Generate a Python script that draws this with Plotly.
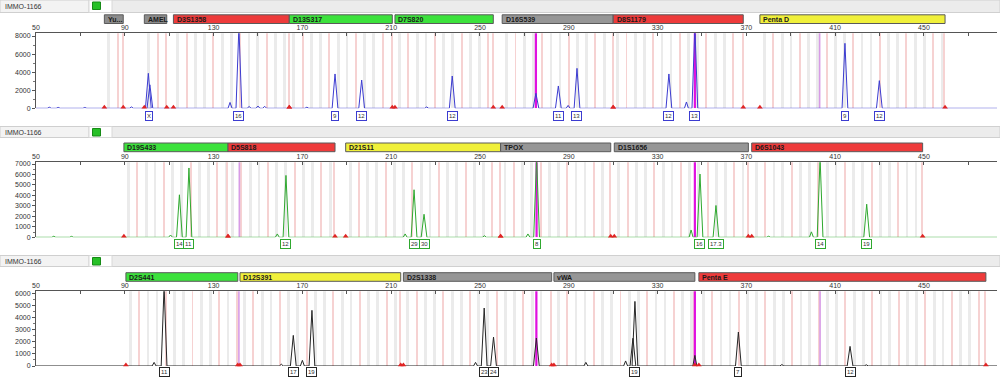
import plotly.graph_objects as go

W, H = 1000, 378
X_MIN, X_MAX = 50, 482.9
X_TICKS = list(range(50, 471, 20))
X_TICK_TEXT = [str(v) if (v - 50) % 40 == 0 else "" for v in X_TICKS]
SAMPLE = "IMMO-1166"

# ---------------- panel 1 (blue dye) ----------------
p1_loci = ["Yu...", "AMEL", "D3S1358", "D13S317", "D7S820", "D16S539", "D8S1179", "Penta D"]
p1_start = [80.8, 98.8, 111.9, 164.1, 211.7, 260.0, 310.0, 376.1]
p1_end = [89.3, 108.9, 164.1, 210.5, 256.0, 310.0, 368.6, 459.5]
p1_colors = ["#8c8c8c", "#8c8c8c", "#ee3b3b", "#3ce23c", "#3ce23c", "#969696", "#ee3b3b", "#f0f03a"]
p1_peak_pos = [100.6, 101.3, 141.4, 184.7, 196.7, 237.5, 285.3, 293.7, 335.1, 346.8, 414.4, 429.9]
p1_peak_h = [3870, 2600, 9000, 3800, 3130, 3575, 2470, 4420, 3800, 9000, 7190, 3060]
p1_minor_pos = [56, 60, 72, 93, 137.4, 146, 150, 153, 172, 226, 275.2, 289.7, 343.0]
p1_minor_h = [120, 100, 90, 150, 650, 200, 250, 220, 120, 150, 1660, 320, 700]
p1_allele_pos = [100.9, 141.4, 184.7, 196.7, 237.5, 285.3, 293.7, 335.1, 346.8, 414.4, 429.9]
p1_allele_txt = ["X", "16", "9", "12", "12", "11", "13", "12", "13", "9", "12"]
p1_magenta = [275.2, 346.8, 403.0]
p1_magenta_style = ["bright", "bright", "light"]
p1_yticks = [0, 2000, 4000, 6000, 8000]

# ---------------- panel 2 (green dye) ----------------
p2_loci = ["D19S433", "D5S818", "D21S11", "TPOX", "D1S1656", "D6S1043"]
p2_start = [89.6, 136.5, 189.5, 259.3, 310.5, 372.4]
p2_end = [136.5, 184.7, 259.3, 308.9, 370.9, 449.4]
p2_colors = ["#3ce23c", "#ee3b3b", "#f0f03a", "#969696", "#969696", "#ee3b3b"]
p2_peak_pos = [114.6, 118.9, 162.6, 220.3, 224.8, 275.5, 349.1, 356.3, 403.2, 424.2]
p2_peak_h = [4060, 6620, 5910, 4540, 2200, 7600, 6040, 3040, 7600, 3160]
p2_minor_pos = [58, 66, 110.6, 158.7, 216.3, 252.0, 271.6, 345.1, 399.3, 380.0]
p2_minor_h = [100, 90, 220, 320, 320, 150, 320, 700, 520, 100]
p2_allele_pos = [114.6, 118.9, 162.6, 220.3, 224.8, 275.5, 349.1, 356.3, 403.2, 424.2]
p2_allele_txt = ["14", "11", "12", "29", "30", "8", "16", "17.3", "14", "19"]
p2_magenta = [141.6, 275.5, 346.8]
p2_magenta_style = ["light", "bright", "bright"]
p2_yticks = [0, 1000, 2000, 3000, 4000, 5000, 6000, 7000]

# ---------------- panel 3 (black dye) ----------------
p3_loci = ["D2S441", "D12S391", "D2S1338", "vWA", "Penta E"]
p3_start = [90.5, 141.9, 215.5, 283.3, 348.6]
p3_end = [140.9, 214.3, 282.3, 346.8, 477.9]
p3_colors = ["#3ce23c", "#f0f03a", "#969696", "#969696", "#ee3b3b"]
p3_peak_pos = [107.7, 165.9, 174.3, 251.9, 256.1, 319.8, 366.4, 416.7]
p3_peak_h = [6600, 2540, 4620, 4810, 2400, 5360, 2820, 1630]
p3_minor_pos = [103.2, 160.5, 170.0, 248.0, 275.4, 297.7, 315.6, 318.9, 346.8, 386.0, 424.0]
p3_minor_h = [300, 150, 470, 300, 2320, 300, 420, 2300, 880, 120, 100]
p3_allele_pos = [107.7, 165.9, 174.3, 251.9, 256.1, 319.8, 366.4, 416.7]
p3_allele_txt = ["11", "17", "19", "23", "24", "19", "7", "12"]
p3_magenta = [141.4, 275.4, 346.8, 403.2]
p3_magenta_style = ["light", "bright", "bright", "light"]
p3_yticks = [0, 1000, 2000, 3000, 4000, 5000, 6000]

# ---------------- layout geometry (pixels) ----------------
panels = [
    dict(loci=p1_loci, start=p1_start, end=p1_end, colors=p1_colors,
         peak_pos=p1_peak_pos, peak_h=p1_peak_h, minor_pos=p1_minor_pos, minor_h=p1_minor_h,
         allele_pos=p1_allele_pos, allele_txt=p1_allele_txt, magenta=p1_magenta,
         magenta_style=p1_magenta_style, yticks=p1_yticks, dye="#3c3cd0",
         ytop_px=33.3, ybase_px=108.3, ylab_val=8000, ylab_px=36.0,
         head=(0.0, 12.5), bar=(14.8, 23.5), lab_px=115.5),
    dict(loci=p2_loci, start=p2_start, end=p2_end, colors=p2_colors,
         peak_pos=p2_peak_pos, peak_h=p2_peak_h, minor_pos=p2_minor_pos, minor_h=p2_minor_h,
         allele_pos=p2_allele_pos, allele_txt=p2_allele_txt, magenta=p2_magenta,
         magenta_style=p2_magenta_style, yticks=p2_yticks, dye="#2fa82f",
         ytop_px=162.3, ybase_px=237.3, ylab_val=7000, ylab_px=164.0,
         head=(126.5, 137.5), bar=(143.0, 151.7), lab_px=244.0),
    dict(loci=p3_loci, start=p3_start, end=p3_end, colors=p3_colors,
         peak_pos=p3_peak_pos, peak_h=p3_peak_h, minor_pos=p3_minor_pos, minor_h=p3_minor_h,
         allele_pos=p3_allele_pos, allele_txt=p3_allele_txt, magenta=p3_magenta,
         magenta_style=p3_magenta_style, yticks=p3_yticks, dye="#262626",
         ytop_px=291.3, ybase_px=366.0, ylab_val=6000, ylab_px=293.7,
         head=(255.5, 266.5), bar=(272.7, 281.3), lab_px=372.0),
]


def py(px):
    return 1 - px / H


def pxx(px):
    return px / W


fig = go.Figure()
shapes = []
annotations = []
layout_axes = {}
FONT = "Liberation Sans, Arial, sans-serif"

for i, P in enumerate(panels):
    n = "" if i == 0 else str(i + 1)
    xa, ya = "x" + n, "y" + n
    ytop = P["ylab_val"] * (P["ybase_px"] - P["ytop_px"]) / (P["ybase_px"] - P["ylab_px"])

    # allele bins (grey) and virtual bins (pink)
    gx, px_ = [], []
    for s, e in zip(P["start"], P["end"]):
        k = 0
        c = s + 2.0
        while c < e - 0.8:
            (px_ if k % 3 == 1 else gx).append(c)
            c += 4.0
            k += 1
        px_.append(e - 0.3)
    fig.add_trace(go.Bar(x=gx, y=[ytop] * len(gx), width=1.25, marker=dict(color="#ebebeb", line_width=0),
                         xaxis=xa, yaxis=ya, hoverinfo="skip", showlegend=False))
    fig.add_trace(go.Bar(x=px_, y=[ytop] * len(px_), width=0.45, marker=dict(color="#f6d2d2", line_width=0),
                         xaxis=xa, yaxis=ya, hoverinfo="skip", showlegend=False))

    # magenta reference lines
    for m, st in zip(P["magenta"], P["magenta_style"]):
        fig.add_trace(go.Scatter(x=[m, m], y=[0, ytop * 1.05], mode="lines",
                                 line=dict(color="#e010e0" if st == "bright" else "#d79be6",
                                           width=2.2 if st == "bright" else 1.6),
                                 xaxis=xa, yaxis=ya, hoverinfo="skip", showlegend=False))

    # electropherogram trace built from peak list
    pk = sorted(list(zip(P["peak_pos"], P["peak_h"])) + list(zip(P["minor_pos"], P["minor_h"])))
    tx, ty = [X_MIN], [0]
    for p, h in pk:
        w = 1.3 if h > 900 else 0.9
        tx += [p - w, p, p + w]
        ty += [0, h, 0]
    tx.append(X_MAX)
    ty.append(0)
    fig.add_trace(go.Scatter(x=tx, y=ty, mode="lines", line=dict(color=P["dye"], width=1),
                             xaxis=xa, yaxis=ya, hoverinfo="skip", showlegend=False))

    # red bin-boundary markers
    rb = []
    for s, e in zip(P["start"], P["end"]):
        rb += [s, e]
    fig.add_trace(go.Scatter(x=rb, y=[ytop * 0.015] * len(rb), mode="markers",
                             marker=dict(symbol="triangle-up", size=5, color="#e02424"),
                             xaxis=xa, yaxis=ya, hoverinfo="skip", showlegend=False, cliponaxis=False))

    # axes
    dom_y = [py(P["ybase_px"]), py(P["ytop_px"])]
    layout_axes["xaxis" + n] = dict(domain=[0.036, 0.997], range=[X_MIN, X_MAX], side="top", anchor=ya,
                                    showline=True, linecolor="#555", linewidth=1, ticks="inside",
                                    ticklen=3, tickcolor="#555", tickvals=X_TICKS, ticktext=X_TICK_TEXT,
                                    tickfont=dict(size=7, color="#333", family=FONT), showgrid=False,
                                    zeroline=False, fixedrange=True, automargin=False)
    layout_axes["yaxis" + n] = dict(domain=dom_y, range=[0, ytop], anchor=xa, showline=True,
                                    linecolor="#555", linewidth=1, ticks="outside", ticklen=3,
                                    tickcolor="#555", tickvals=P["yticks"],
                                    tickfont=dict(size=7, color="#333", family=FONT), showgrid=False,
                                    zeroline=False, fixedrange=True, automargin=False,
                                    minor=dict(ticks="outside", ticklen=2, tickcolor="#777",
                                               dtick=(P["yticks"][1] - P["yticks"][0]) / 2))

    # header strip
    h0, h1 = P["head"]
    shapes.append(dict(type="rect", xref="paper", yref="paper", x0=0, x1=1, y0=py(h1), y1=py(h0),
                       fillcolor="#ececec", line=dict(color="#d0d0d0", width=1), layer="below"))
    shapes.append(dict(type="rect", xref="paper", yref="paper", x0=0, x1=pxx(89), y0=py(h1), y1=py(h0),
                       fillcolor="#f3f3f3", line=dict(color="#cfcfcf", width=1), layer="below"))
    shapes.append(dict(type="rect", xref="paper", yref="paper", x0=pxx(89), x1=pxx(112), y0=py(h1), y1=py(h0),
                       fillcolor="#ffffff", line=dict(color="#d8d8d8", width=1), layer="below"))
    shapes.append(dict(type="rect", xref="paper", yref="paper", x0=pxx(92.5), x1=pxx(100.5),
                       y0=py(h0 + 9.5), y1=py(h0 + 2.0),
                       fillcolor="#27c027", line=dict(color="#178a17", width=1)))
    annotations.append(dict(x=pxx(3), y=py((h0 + h1) / 2), xref="paper", yref="paper", text=SAMPLE,
                            showarrow=False, xanchor="left", yanchor="middle",
                            font=dict(size=7, color="#333", family=FONT)))

    # locus marker bars
    b0, b1 = P["bar"]
    for name, s, e, c in zip(P["loci"], P["start"], P["end"], P["colors"]):
        shapes.append(dict(type="rect", xref=xa, yref="paper", x0=s, x1=e, y0=py(b1), y1=py(b0),
                           fillcolor=c, line=dict(color="#5a5a5a", width=1)))
        annotations.append(dict(x=s + 0.6, y=py((b0 + b1) / 2), xref=xa, yref="paper", text="<b>" + name + "</b>",
                                showarrow=False, xanchor="left", yanchor="middle",
                                font=dict(size=7, color="#1a1a1a", family=FONT)))

    # allele call labels
    for p, t in zip(P["allele_pos"], P["allele_txt"]):
        annotations.append(dict(x=p, y=py(P["lab_px"]), xref=xa, yref="paper", text=t, showarrow=False,
                                xanchor="center", yanchor="middle", bgcolor="#ffffff",
                                bordercolor=P["dye"], borderwidth=1, borderpad=1,
                                font=dict(size=6, color="#333", family=FONT)))

fig.update_layout(width=W, height=H, margin=dict(l=0, r=0, t=0, b=0, autoexpand=False), paper_bgcolor="white",
                  plot_bgcolor="white", barmode="overlay", bargap=0, showlegend=False,
                  shapes=shapes, annotations=annotations, **layout_axes)

fig.write_html("out.html", config={"displayModeBar": False},
               post_script="document.body.style.margin='0';document.body.style.overflow='hidden';")
